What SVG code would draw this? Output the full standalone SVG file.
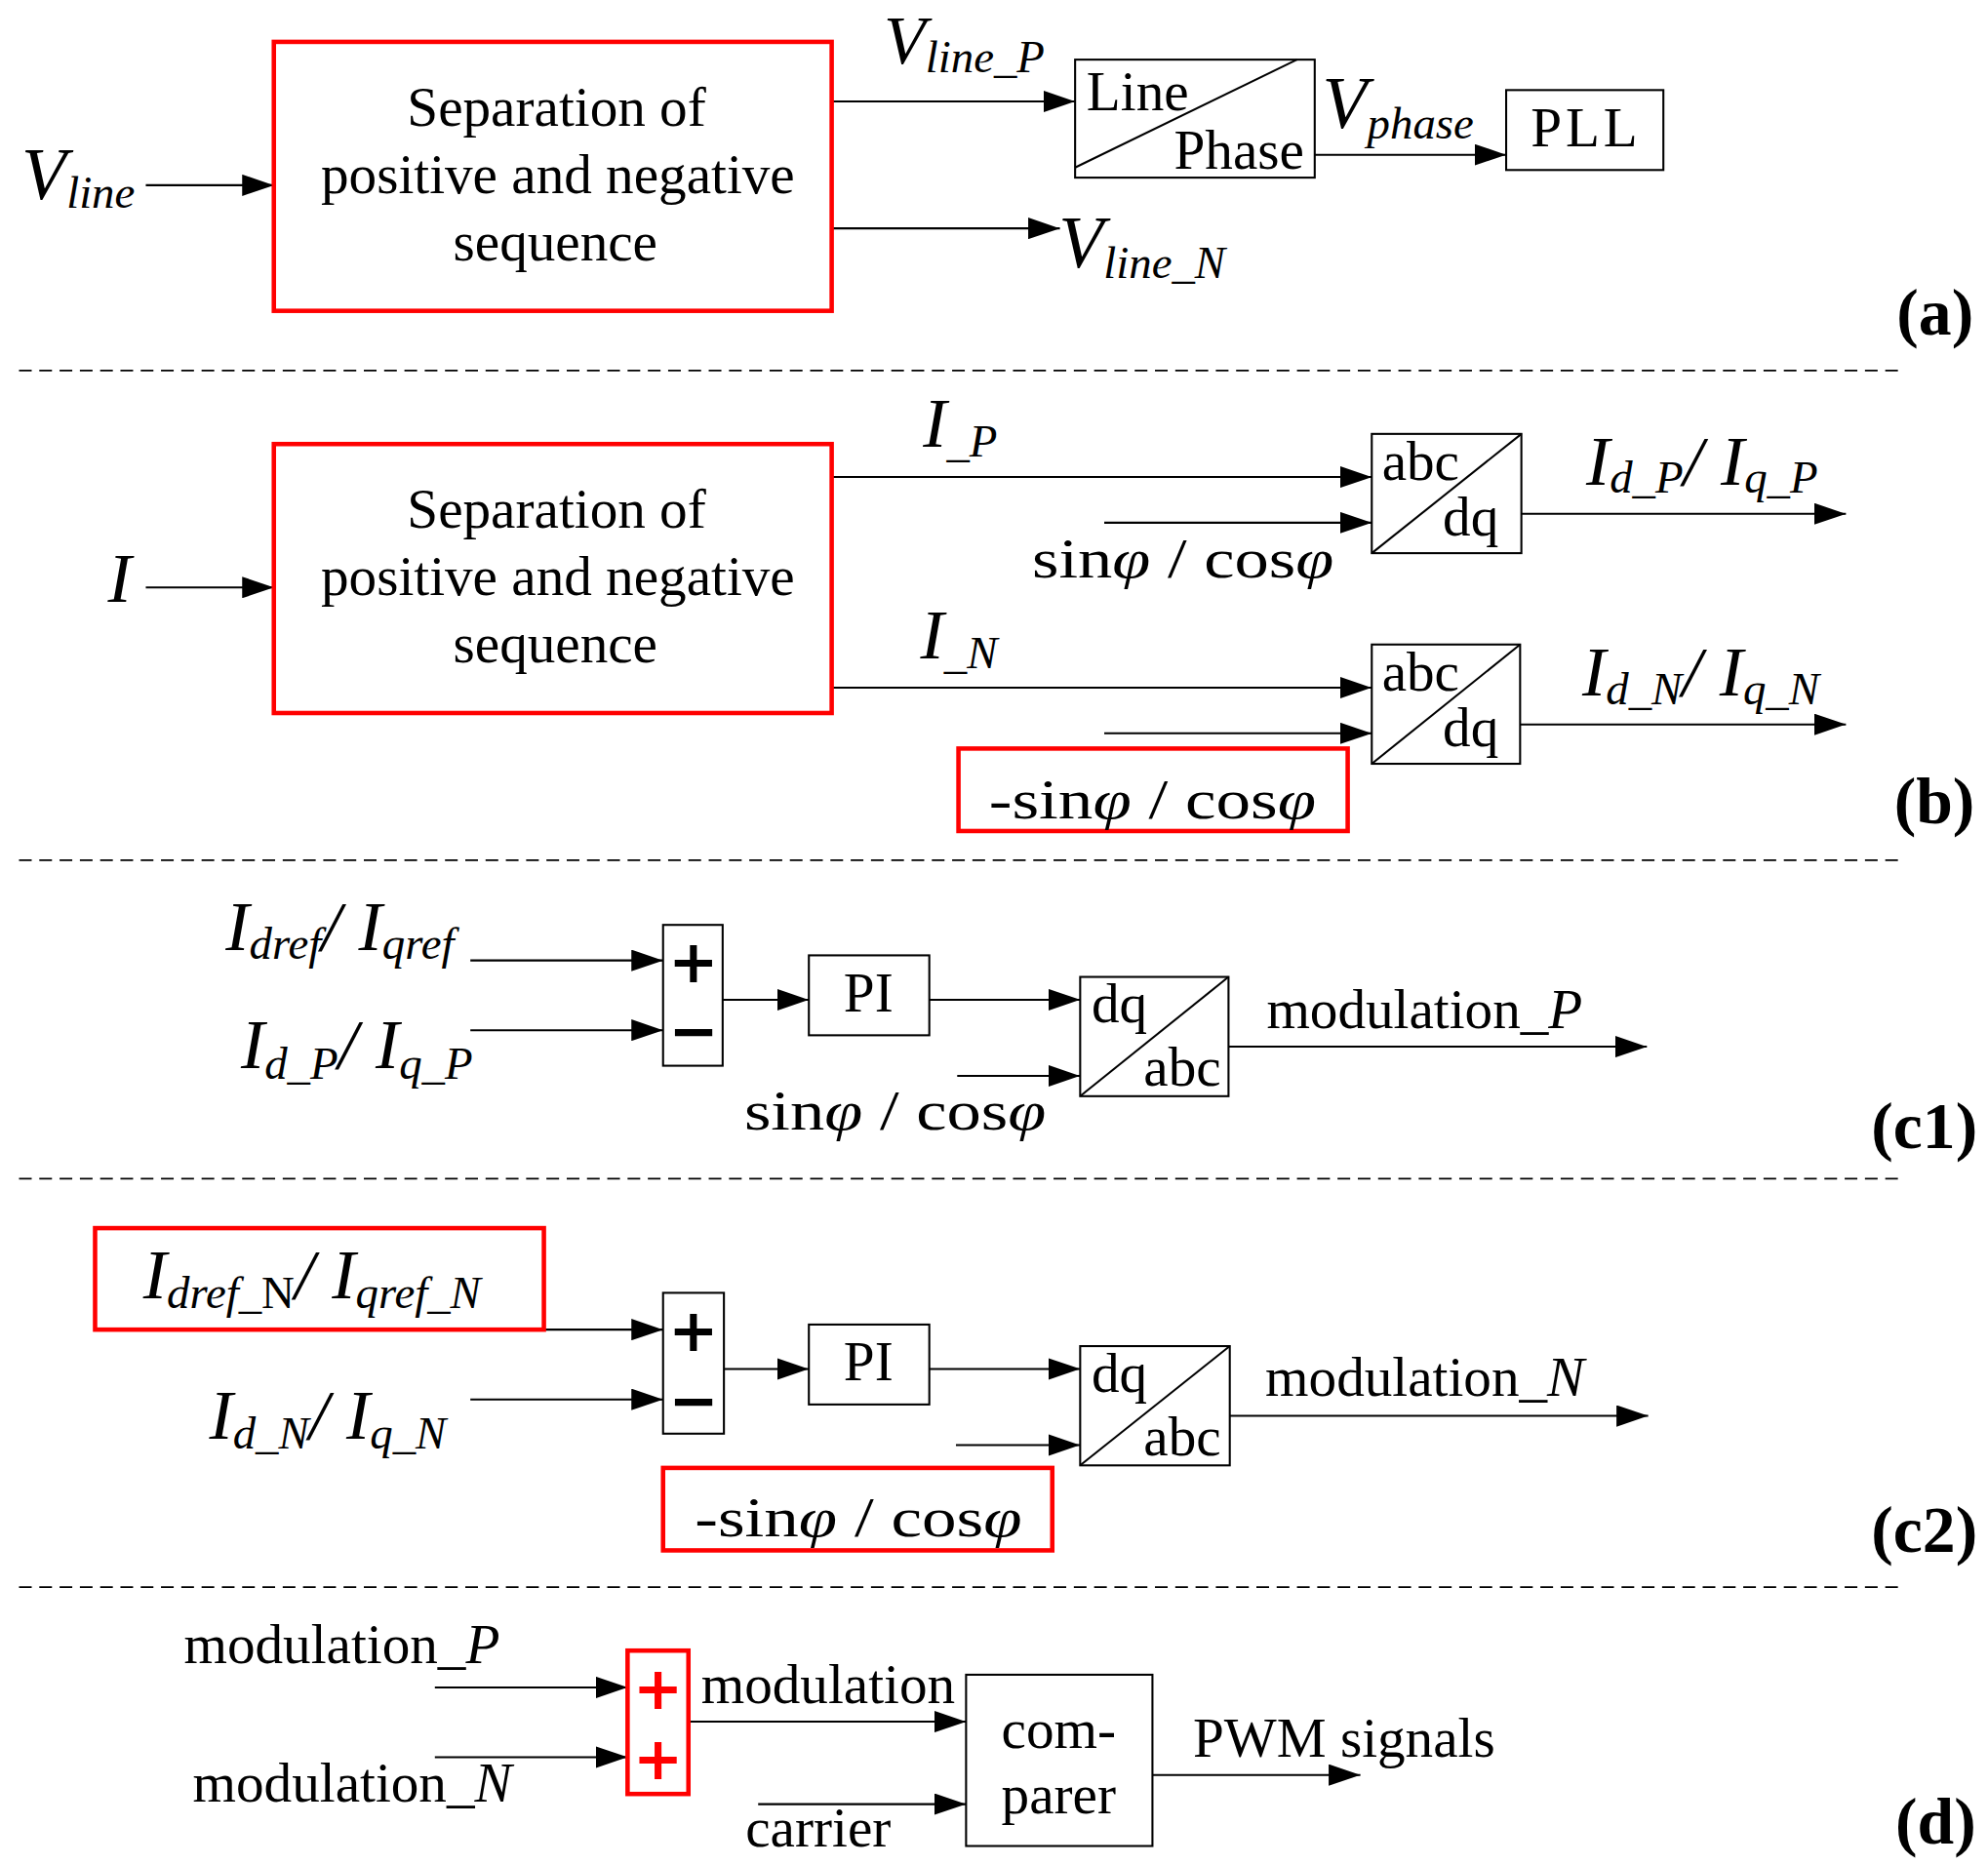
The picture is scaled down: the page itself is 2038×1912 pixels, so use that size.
<svg xmlns="http://www.w3.org/2000/svg" width="2038" height="1912" viewBox="0 0 2038 1912">
<style>
.t{font-family:"Liberation Serif","Times New Roman",serif;font-size:44px;fill:#000}
.i{font-style:italic}
.L{font-size:56px}
.s{font-size:36px}
.lab{font-family:"Liberation Serif","Times New Roman",serif;font-size:52px;font-weight:bold;fill:#000}
.box{fill:#fff;stroke:#000;stroke-width:1.6}
.red{fill:none;stroke:#ff0000;stroke-width:3.5}
.diag{stroke:#000;stroke-width:1.6}
.c line{stroke:#000;stroke-width:1.6;marker-end:url(#ah)}
.dash{stroke:#000;stroke-width:1.4;stroke-dasharray:10 6}
.op{font-family:"DejaVu Sans","Liberation Sans",sans-serif;font-weight:bold;font-size:47px;text-anchor:middle}
.ph{font-style:italic}
</style>
<defs>
<marker id="ah" markerUnits="userSpaceOnUse" markerWidth="25" markerHeight="17" refX="25" refY="8.5" orient="auto">
<path d="M0,0 L25,8.5 L0,17 z" fill="#000"/>
</marker>
</defs>
<rect width="2038" height="1912" fill="#fff"/>
<g transform="scale(1.2997,1.3007)">
<g id="dividers">
<line class="dash" x1="15" y1="292" x2="1500" y2="292"/>
<line class="dash" x1="15" y1="678" x2="1500" y2="678"/>
<line class="dash" x1="15" y1="929" x2="1500" y2="929"/>
<line class="dash" x1="15" y1="1251" x2="1500" y2="1251"/>
</g>
<g id="connectors" class="c">
<line x1="115" y1="146" x2="216" y2="146"/>
<line x1="656" y1="80" x2="848" y2="80"/>
<line x1="656" y1="180" x2="836" y2="180"/>
<line x1="1037" y1="122" x2="1188" y2="122"/>
<line x1="115" y1="463" x2="216" y2="463"/>
<line x1="656" y1="376" x2="1082" y2="376"/>
<line x1="871" y1="412" x2="1082" y2="412"/>
<line x1="1200" y1="405" x2="1456" y2="405"/>
<line x1="656" y1="542" x2="1082" y2="542"/>
<line x1="871" y1="578" x2="1082" y2="578"/>
<line x1="1199" y1="571" x2="1456" y2="571"/>
<line x1="371" y1="757" x2="523" y2="757"/>
<line x1="371" y1="812" x2="523" y2="812"/>
<line x1="570" y1="788" x2="638" y2="788"/>
<line x1="733" y1="788" x2="852" y2="788"/>
<line x1="755" y1="848" x2="852" y2="848"/>
<line x1="969" y1="825" x2="1299" y2="825"/>
<line x1="429" y1="1048" x2="523" y2="1048"/>
<line x1="371" y1="1103" x2="523" y2="1103"/>
<line x1="571" y1="1079" x2="638" y2="1079"/>
<line x1="733" y1="1079" x2="852" y2="1079"/>
<line x1="754" y1="1139" x2="852" y2="1139"/>
<line x1="970" y1="1116" x2="1300" y2="1116"/>
<line x1="343" y1="1330" x2="495" y2="1330"/>
<line x1="343" y1="1385" x2="495" y2="1385"/>
<line x1="543" y1="1357" x2="762" y2="1357"/>
<line x1="598" y1="1422" x2="762" y2="1422"/>
<line x1="909" y1="1399" x2="1073" y2="1399"/>
</g>
<g id="sep1">
<rect class="red" x="216" y="33" width="440" height="212"/>
<text class="t" x="439" y="99" text-anchor="middle">Separation of</text>
<text class="t" x="440" y="152" text-anchor="middle">positive and negative</text>
<text class="t" x="438" y="205" text-anchor="middle">sequence</text>
</g>
<g id="linephase">
<rect class="box" x="848" y="47" width="189" height="93"/>
<line class="diag" x1="848" y1="132" x2="1023" y2="47"/>
<text class="t" x="857" y="87">Line</text>
<text class="t" x="926" y="133">Phase</text>
</g>
<g id="pll">
<rect class="box" x="1188" y="71" width="124" height="63"/>
<text class="t" x="1251" y="115" text-anchor="middle" letter-spacing="3">PLL</text>
</g>
<g id="sep2">
<rect class="red" x="216" y="350" width="440" height="212"/>
<text class="t" x="439" y="416" text-anchor="middle">Separation of</text>
<text class="t" x="440" y="469" text-anchor="middle">positive and negative</text>
<text class="t" x="438" y="522" text-anchor="middle">sequence</text>
</g>
<g id="abcdq1">
<rect class="box" x="1082" y="342" width="118" height="94"/>
<line class="diag" x1="1082" y1="436" x2="1200" y2="342"/>
<text class="t" x="1090" y="378">abc</text>
<text class="t" x="1138" y="422">dq</text>
</g>
<g id="abcdq2">
<rect class="box" x="1082" y="508" width="117" height="94"/>
<line class="diag" x1="1082" y1="602" x2="1199" y2="508"/>
<text class="t" x="1090" y="544">abc</text>
<text class="t" x="1138" y="588">dq</text>
</g>
<g id="negsin1">
<rect class="red" x="756" y="590" width="307" height="65"/>
<text class="t" x="780" y="645" font-size="60" textLength="258" lengthAdjust="spacingAndGlyphs">-sin<tspan class="ph">φ</tspan> / cos<tspan class="ph">φ</tspan></text>
</g>
<g id="sum1">
<rect class="box" x="523" y="729" width="47" height="111"/>
<text class="op" x="547" y="774">+</text>
<text class="op" x="547" y="829">−</text>
</g>
<g id="pi1">
<rect class="box" x="638" y="753" width="95" height="63"/>
<text class="t" x="685" y="797" text-anchor="middle">PI</text>
</g>
<g id="dqabc1">
<rect class="box" x="852" y="770" width="117" height="94"/>
<line class="diag" x1="852" y1="864" x2="969" y2="770"/>
<text class="t" x="861" y="806">dq</text>
<text class="t" x="902" y="856">abc</text>
</g>
<g id="ref2">
<rect class="red" x="75" y="968" width="354" height="80"/>
<text class="t i" x="113" y="1023"><tspan class="L">I</tspan><tspan class="s" dy="8">dref</tspan><tspan class="s" font-style="normal">_N</tspan><tspan class="L" dy="-8">/ I</tspan><tspan class="s" dy="8">qref_N</tspan></text>
</g>
<g id="sum2">
<rect class="box" x="523" y="1019" width="48" height="111"/>
<text class="op" x="547" y="1065">+</text>
<text class="op" x="547" y="1120">−</text>
</g>
<g id="pi2">
<rect class="box" x="638" y="1044" width="95" height="63"/>
<text class="t" x="685" y="1088" text-anchor="middle">PI</text>
</g>
<g id="dqabc2">
<rect class="box" x="852" y="1061" width="118" height="94"/>
<line class="diag" x1="852" y1="1155" x2="970" y2="1061"/>
<text class="t" x="861" y="1097">dq</text>
<text class="t" x="902" y="1147">abc</text>
</g>
<g id="negsin2">
<rect class="red" x="523" y="1157" width="307" height="65"/>
<text class="t" x="548" y="1211" font-size="60" textLength="258" lengthAdjust="spacingAndGlyphs">-sin<tspan class="ph">φ</tspan> / cos<tspan class="ph">φ</tspan></text>
</g>
<g id="sum3">
<rect class="red" x="495" y="1301" width="48" height="113" stroke-width="3"/>
<text class="op" x="519" y="1347" fill="#ff0000">+</text>
<text class="op" x="519" y="1402" fill="#ff0000">+</text>
</g>
<g id="comparer">
<rect class="box" x="762" y="1320" width="147" height="135"/>
<text class="t" x="835" y="1378" text-anchor="middle">com-</text>
<text class="t" x="835" y="1429" text-anchor="middle">parer</text>
</g>
<g id="labels">
<text class="t i" x="17" y="157"><tspan font-size="58">V</tspan><tspan class="s" font-size="35" dy="7">line</tspan></text>
<text class="t i" x="697" y="50"><tspan font-size="54">V</tspan><tspan class="s" dy="7">line_P</tspan></text>
<text class="t i" x="835" y="211"><tspan font-size="58">V</tspan><tspan class="s" dy="8">line_N</tspan></text>
<text class="t i" x="1043" y="101"><tspan font-size="58">V</tspan><tspan class="s" dy="8">phase</tspan></text>
<text class="t i L" x="85" y="474">I</text>
<text class="t i" x="728" y="352"><tspan class="L">I</tspan><tspan class="s" dy="8">_P</tspan></text>
<text class="t" x="814" y="455" font-size="60" textLength="238" lengthAdjust="spacingAndGlyphs">sin<tspan class="ph">φ</tspan> / cos<tspan class="ph">φ</tspan></text>
<text class="t i" x="1251" y="382"><tspan class="L">I</tspan><tspan class="s" dy="6">d_P</tspan><tspan class="L" dy="-6">/ I</tspan><tspan class="s" dy="6">q_P</tspan></text>
<text class="t i" x="726" y="519"><tspan class="L">I</tspan><tspan class="s" dy="8">_N</tspan></text>
<text class="t i" x="1248" y="548"><tspan class="L">I</tspan><tspan class="s" dy="7">d_N</tspan><tspan class="L" dy="-7">/ I</tspan><tspan class="s" dy="7">q_N</tspan></text>
<text class="t i" x="178" y="749"><tspan class="L">I</tspan><tspan class="s" dy="7">dref</tspan><tspan class="L" dy="-7">/ I</tspan><tspan class="s" dy="7">qref</tspan></text>
<text class="t i" x="190" y="842"><tspan class="L">I</tspan><tspan class="s" dy="8">d_P</tspan><tspan class="L" dy="-8">/ I</tspan><tspan class="s" dy="8">q_P</tspan></text>
<text class="t" x="587" y="890" font-size="60" textLength="238" lengthAdjust="spacingAndGlyphs">sin<tspan class="ph">φ</tspan> / cos<tspan class="ph">φ</tspan></text>
<text class="t" x="999" y="810">modulation_<tspan class="i">P</tspan></text>
<text class="t i" x="165" y="1134"><tspan class="L">I</tspan><tspan class="s" dy="8">d_N</tspan><tspan class="L" dy="-8">/ I</tspan><tspan class="s" dy="8">q_N</tspan></text>
<text class="t" x="998" y="1100">modulation_<tspan class="i">N</tspan></text>
<text class="t" x="145" y="1311">modulation_<tspan class="i">P</tspan></text>
<text class="t" x="152" y="1420">modulation_<tspan class="i">N</tspan></text>
<text class="t" x="553" y="1342">modulation</text>
<text class="t" x="588" y="1455">carrier</text>
<text class="t" x="941" y="1385">PWM signals</text>
</g>
<g id="section-labels">
<text class="lab" x="1496" y="264">(a)</text>
<text class="lab" x="1494" y="649">(b)</text>
<text class="lab" x="1476" y="905">(c1)</text>
<text class="lab" x="1476" y="1223">(c2)</text>
<text class="lab" x="1495" y="1453">(d)</text>
</g>
</g>
</svg>
